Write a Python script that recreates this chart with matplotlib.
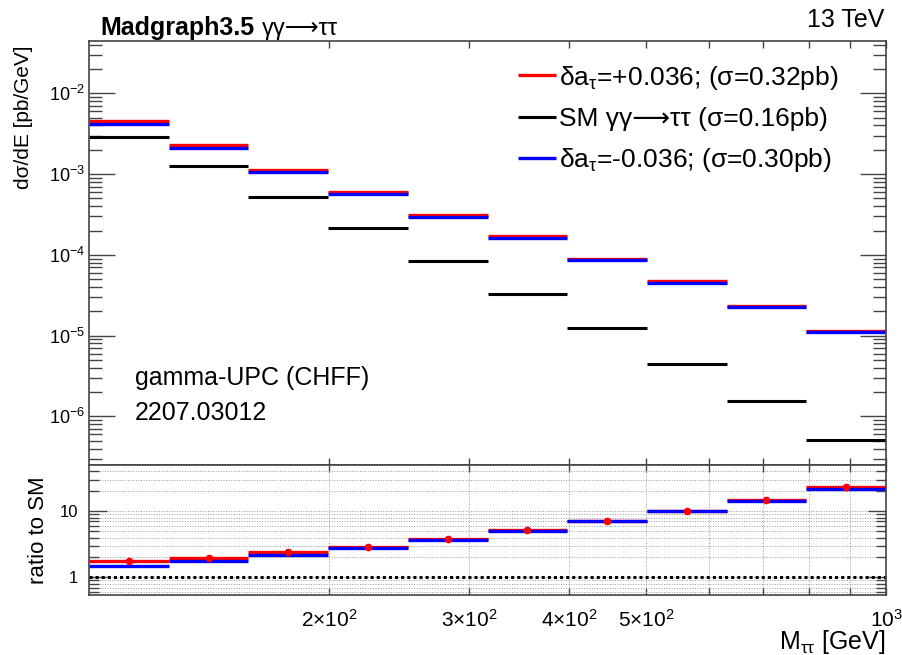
import numpy as np
import matplotlib
matplotlib.use("Agg")
import matplotlib.pyplot as plt
from matplotlib.ticker import FixedLocator, FixedFormatter, LogLocator, NullLocator, NullFormatter

plt.rcParams["font.family"] = ["Liberation Sans", "DejaVu Sans"]
plt.rcParams["mathtext.fontset"] = "custom"
plt.rcParams["mathtext.rm"] = "Liberation Sans"
plt.rcParams["mathtext.it"] = "Liberation Sans:italic"
plt.rcParams["mathtext.bf"] = "Liberation Sans:bold"

# M_tautau binning (10 log-spaced bins, 100-1000 GeV)
mass_edges = [100.0, 125.9, 158.5, 199.5, 251.2, 316.2, 398.1, 501.2, 631.0, 794.3, 1000.0]

# dsigma/dE [pb/GeV]
xsec_plus = [4.58e-3, 2.29e-3, 1.14e-3, 5.93e-4, 3.10e-4, 1.70e-4, 9.0e-5, 4.72e-5, 2.33e-5, 1.15e-5]
xsec_sm = [2.90e-3, 1.245e-3, 5.19e-4, 2.16e-4, 8.43e-5, 3.32e-5, 1.236e-5, 4.51e-6, 1.54e-6, 5.06e-7]
xsec_minus = [4.17e-3, 2.08e-3, 1.05e-3, 5.60e-4, 2.96e-4, 1.61e-4, 8.53e-5, 4.50e-5, 2.27e-5, 1.11e-5]

# ratio to SM
ratio_plus = [1.75, 1.95, 2.45, 2.9, 3.85, 5.15, 7.05, 10.1, 14.6, 23.0]
ratio_minus = [1.49, 1.76, 2.15, 2.75, 3.67, 4.96, 7.0, 10.0, 14.5, 21.7]

labels = [
    r"δa$_{\mathregular{τ}}$=+0.036; (σ=0.32pb)",
    "SM γγ⟶ττ (σ=0.16pb)",
    r"δa$_{\mathregular{τ}}$=-0.036; (σ=0.30pb)",
]

x_ticks = [200, 300, 400, 500, 600, 700, 800, 900, 1000]
x_ticklabels = [r"2$\times$10$^{\mathregular{2}}$", r"3$\times$10$^{\mathregular{2}}$",
                r"4$\times$10$^{\mathregular{2}}$", r"5$\times$10$^{\mathregular{2}}$",
                "", "", "", "", r"10$^{\mathregular{3}}$"]

RED = "#ff0000"
BLUE = "#0000ff"
AXC = "#444444"

lo = np.array(mass_edges[:-1])
hi = np.array(mass_edges[1:])
centres = np.sqrt(lo * hi)

fig = plt.figure(figsize=(9.02, 6.55), dpi=100)
ax = fig.add_axes([0.0987, 0.2901, 0.8836, 0.6473])
rax = fig.add_axes([0.0987, 0.0916, 0.8836, 0.1985], sharex=ax)

# upper pad: histograms drawn as flat bin tops only
h_plus = ax.hlines(xsec_plus, lo, hi, color=RED, lw=2.4)
h_minus = ax.hlines(xsec_minus, lo, hi, color=BLUE, lw=2.4)
h_sm = ax.hlines(xsec_sm, lo, hi, color="black", lw=2.2)

ax.set_xscale("log")
ax.set_yscale("log")
ax.set_xlim(100, 1000)
ax.set_ylim(2.5e-7, 0.0445)
ax.xaxis.set_major_locator(FixedLocator(x_ticks))
ax.xaxis.set_minor_locator(NullLocator())
ax.yaxis.set_major_locator(LogLocator(base=10, numticks=20))
ax.yaxis.set_minor_locator(LogLocator(base=10, subs=np.arange(2, 10), numticks=20))
ax.yaxis.set_minor_formatter(NullFormatter())
ax.tick_params(which="both", direction="in", top=True, right=True, color=AXC, width=1.0)
ax.tick_params(axis="x", labelbottom=False)
ax.tick_params(axis="y", which="major", length=18.7, labelsize=13, pad=3)
ax.tick_params(axis="y", which="minor", length=9.4)
ax.tick_params(axis="x", which="major", length=4.7)
for s in ax.spines.values():
    s.set_color(AXC)
    s.set_linewidth(1.2)

ax.legend([h_plus, h_sm, h_minus], labels, loc="upper left",
          bbox_to_anchor=(0.5743, 0.903), bbox_transform=fig.transFigure,
          frameon=False, fontsize=19, handlelength=1.45, handletextpad=0.12,
          labelspacing=0.58, borderpad=0, borderaxespad=0)

ax.text(0.0577, 0.205, "gamma-UPC (CHFF)", transform=ax.transAxes, fontsize=18, va="center")
ax.text(0.0577, 0.123, "2207.03012", transform=ax.transAxes, fontsize=18, va="center")

# lower pad: ratio to SM
rax.set_axisbelow(True)
rax.grid(True, which="both", axis="y", color="#999999", ls=":", lw=0.7)
rax.grid(True, which="major", axis="x", color="#999999", ls=":", lw=0.7)
rax.axhline(1.0, color="black", lw=2.2, ls=(0, (1, 1)))
rax.hlines(ratio_plus, lo, hi, color=RED, lw=2.4)
rax.hlines(ratio_minus, lo, hi, color=BLUE, lw=2.4)
rax.plot(centres, ratio_plus, "o", color=RED, ms=4.5, zorder=5)

rax.set_yscale("log")
rax.set_ylim(0.54, 50)
rax.yaxis.set_major_locator(FixedLocator([1, 10]))
rax.yaxis.set_major_formatter(FixedFormatter(["1", "10"]))
rax.yaxis.set_minor_locator(FixedLocator([0.6, 0.7, 0.8, 0.9, 2, 3, 4, 5, 6, 7, 8, 9, 20, 30, 40]))
rax.yaxis.set_minor_formatter(NullFormatter())
rax.xaxis.set_major_formatter(FixedFormatter(x_ticklabels))
rax.tick_params(which="both", direction="in", top=True, right=True, color=AXC, width=1.0)
rax.tick_params(axis="y", which="major", length=13, labelsize=12, pad=8)
rax.tick_params(axis="y", which="minor", length=7)
rax.tick_params(axis="x", which="major", length=5, labelsize=15, pad=10)
for s in rax.spines.values():
    s.set_color(AXC)
    s.set_linewidth(1.2)
rax.set_xlabel(r"M$_{\mathregular{ττ}}$ [GeV]", fontsize=18, ha="right", x=1.0, labelpad=-2)

fig.text(0.0255, 0.93, "dσ/dE [pb/GeV]", rotation=90, ha="center", va="top", fontsize=15)
fig.text(0.0427, 0.191, "ratio to SM", rotation=90, ha="center", va="center", fontsize=16)

# header: generator tag and beam energy
t1 = fig.text(0.111, 0.9466, "Madgraph3.5", fontsize=18, weight="bold", va="baseline")
fig.canvas.draw()
bb = t1.get_window_extent().transformed(fig.transFigure.inverted())
fig.text(bb.x1 + 0.008, 0.9466, "γγ⟶ττ", fontsize=17, va="baseline")
fig.text(0.981, 0.9593, "13 TeV", fontsize=18, ha="right", va="baseline")

fig.savefig("out.png", dpi=100)
